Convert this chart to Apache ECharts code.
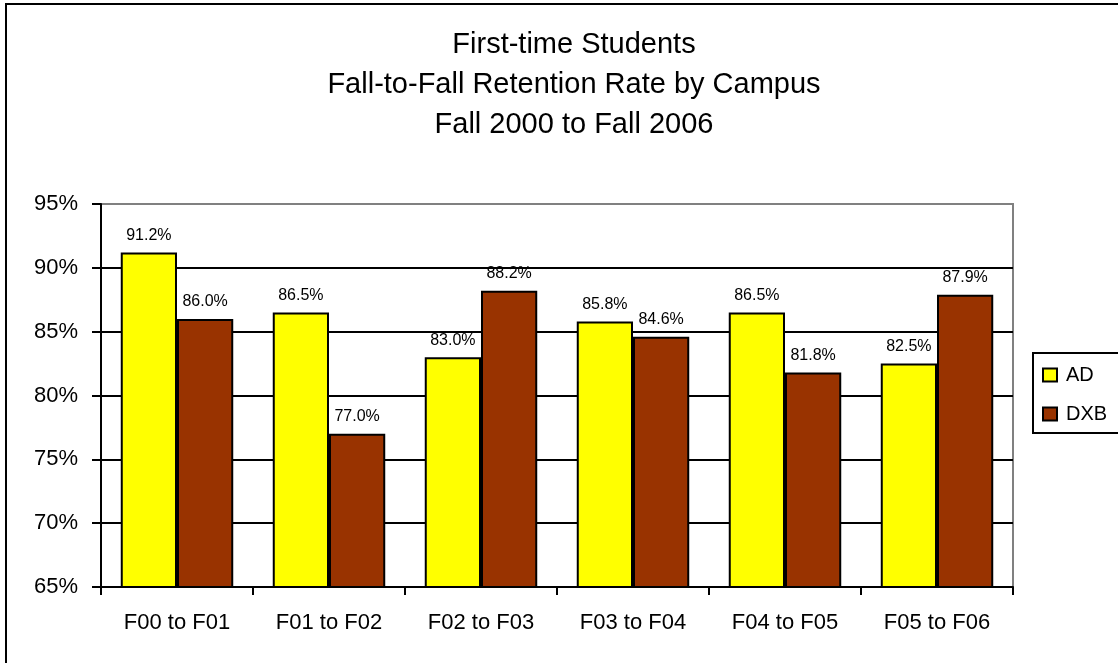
<!DOCTYPE html>
<html>
<head>
<meta charset="utf-8">
<script src="https://cdn.jsdelivr.net/npm/echarts@6/dist/echarts.min.js"></script>
<style>
  html, body { margin: 0; padding: 0; background: #fff; }
  #chart { width: 1118px; height: 663px; }
</style>
</head>
<body>
<div id="chart"></div>
<script>
var categories = ["F00 to F01", "F01 to F02", "F02 to F03", "F03 to F04", "F04 to F05", "F05 to F06"];
var adValues = [91.2, 86.5, 83.0, 85.8, 86.5, 82.5];
var dxbValues = [86.0, 77.0, 88.2, 84.6, 81.8, 87.9];
var titleLines = ["First-time Students", "Fall-to-Fall Retention Rate by Campus", "Fall 2000 to Fall 2006"];

var font = 'Arial, "Liberation Sans", sans-serif';

var myChart = echarts.init(document.getElementById("chart"));

function barLabel() {
  return {
    show: true,
    position: "top",
    distance: 9,
    fontSize: 16,
    fontFamily: font,
    color: "#000",
    formatter: function (p) {
      return p.value.toFixed(1) + "%";
    }
  };
}

var option = {
  animation: false,
  backgroundColor: "#fff",
  title: {
    text: titleLines.join("\n"),
    left: 569,
    textAlign: "center",
    top: 20,
    textStyle: {
      fontFamily: font,
      fontSize: 29,
      fontWeight: "normal",
      lineHeight: 40,
      color: "#000"
    }
  },
  legend: {
    orient: "vertical",
    left: 1033,
    top: 353,
    padding: [12, 60, 9, 9],
    borderColor: "#000",
    borderWidth: 2,
    itemWidth: 14,
    itemHeight: 13,
    itemGap: 19,
    icon: "rect",
    textStyle: {
      fontFamily: font,
      fontSize: 20,
      color: "#000",
      padding: [0, 0, 0, 4]
    },
    data: ["AD", "DXB"]
  },
  grid: {
    left: 101,
    right: 105,
    top: 204,
    bottom: 76,
    show: true,
    borderColor: "#808080",
    borderWidth: 2
  },
  xAxis: {
    type: "category",
    data: categories,
    axisLine: { lineStyle: { color: "#000", width: 2 } },
    axisTick: { show: true, length: 8, lineStyle: { color: "#000", width: 2 } },
    axisLabel: {
      fontFamily: font,
      fontSize: 22,
      color: "#000",
      margin: 25
    }
  },
  yAxis: {
    type: "value",
    min: 65,
    max: 95,
    interval: 5,
    axisLine: { show: true, lineStyle: { color: "#000", width: 2 } },
    axisTick: { show: true, length: 9, lineStyle: { color: "#000", width: 2 } },
    axisLabel: {
      fontFamily: font,
      fontSize: 22,
      color: "#000",
      margin: 23,
      formatter: "{value}%"
    },
    splitLine: {
      show: true,
      lineStyle: {
        color: ["#000", "#000", "#000", "#000", "#000", "#000", "#808080"],
        width: 2
      }
    }
  },
  series: [
    {
      name: "AD",
      type: "bar",
      data: adValues,
      barGap: "0%",
      barCategoryGap: "26%",
      itemStyle: { color: "#FFFF00", borderColor: "#000", borderWidth: 2 },
      label: barLabel()
    },
    {
      name: "DXB",
      type: "bar",
      data: dxbValues,
      barGap: "0%",
      barCategoryGap: "26%",
      itemStyle: { color: "#993300", borderColor: "#000", borderWidth: 2 },
      label: barLabel()
    }
  ],
  graphic: [
    {
      type: "rect",
      shape: { x: 6, y: 4, width: 1200, height: 700 },
      style: { fill: "none", stroke: "#000", lineWidth: 2 },
      silent: true
    }
  ]
};

myChart.setOption(option);
</script>
</body>
</html>
